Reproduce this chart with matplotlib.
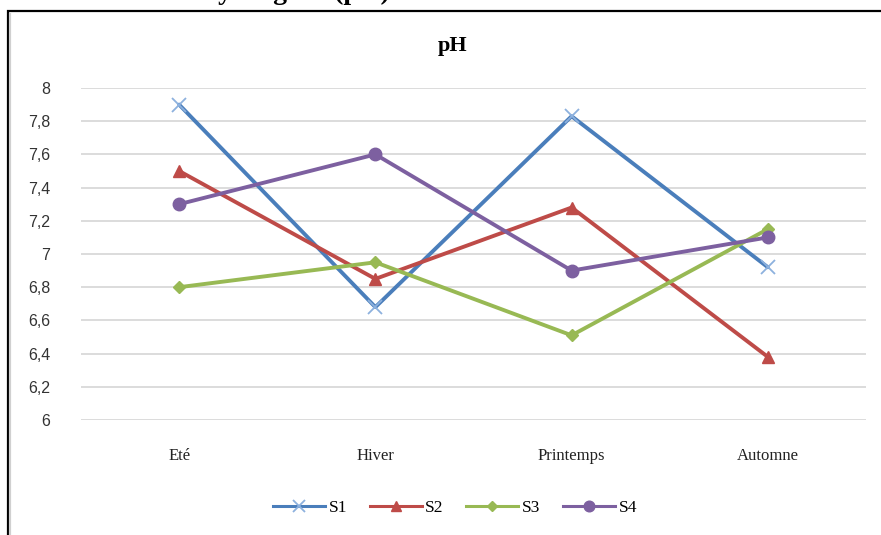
import matplotlib
matplotlib.use("Agg")
import matplotlib.pyplot as plt
from matplotlib.patches import Rectangle
from matplotlib.lines import Line2D

categories = ["Eté", "Hiver", "Printemps", "Automne"]
s1 = [7.90, 6.68, 7.83, 6.92]
s2 = [7.50, 6.85, 7.28, 6.38]
s3 = [6.80, 6.95, 6.51, 7.15]
s4 = [7.30, 7.60, 6.90, 7.10]
series_names = ["S1", "S2", "S3", "S4"]
yticks = [6.0, 6.2, 6.4, 6.6, 6.8, 7.0, 7.2, 7.4, 7.6, 7.8, 8.0]
ytick_labels = ["6", "6,2", "6,4", "6,6", "6,8", "7", "7,2", "7,4", "7,6", "7,8", "8"]

W, H = 881, 535
fig = plt.figure(figsize=(W/100, H/100), dpi=100)
fig.patch.set_facecolor("white")

# frame of the chart (cropped screenshot)
fig.patches.append(Rectangle((8/W, -0.1), 1.2, 1 - 11/H + 0.1, transform=fig.transFigure,
                             fill=False, edgecolor="black", linewidth=1.6, zorder=0))
fig.patches.append(Rectangle((10/W, -0.1), 0.0001, 1 - 13/H + 0.1, transform=fig.transFigure,
                             fill=False, edgecolor="#d0d0d0", linewidth=1.5, zorder=0))

# cropped heading above chart (only its lower part is visible in the reference)
fig.text(390/W, 1 + 1/H, "Potentiel hydrogène (pH)", ha="right", va="baseline",
         fontsize=20, fontweight="bold", family="Liberation Serif", color="black")

ax = fig.add_axes([81/W, 1 - 420/H, (866 - 81)/W, (420 - 88)/H])
x = list(range(len(categories)))

styles = [
    dict(color="#4A7EBB", marker="x", ms=10, mec="#8DB1DE", mew=1.3),
    dict(color="#BE4B48", marker="^", ms=9, mec="#BE4B48", mfc="#BE4B48"),
    dict(color="#98B954", marker="D", ms=6, mec="#98B954", mfc="#98B954"),
    dict(color="#7D60A0", marker="o", ms=9, mec="#7D60A0", mfc="#7D60A0"),
]
for vals, name, st in zip([s1, s2, s3, s4], series_names, styles):
    ax.plot(x, vals, lw=2.8, label=name, solid_capstyle="round", solid_joinstyle="round", **st)

ax.set_xlim(-0.5, len(categories) - 0.5)
ax.set_ylim(6.0, 8.0)
ax.set_yticks(yticks)
ax.set_yticklabels(ytick_labels, family="Liberation Sans", fontsize=11.5, color="#333333")
ax.set_xticks(x)
ax.set_xticklabels(categories, family="Liberation Serif", fontsize=12, color="#222222")
ax.tick_params(axis="both", length=0)
ax.tick_params(axis="x", pad=20)
ax.tick_params(axis="y", pad=22)
ax.yaxis.grid(True, color="#D9D9D9", lw=1.3)
ax.set_axisbelow(True)
for sp in ax.spines.values():
    sp.set_visible(False)
for lab in ax.get_yticklabels():
    lab.set_horizontalalignment("right")

fig.text(453/W, 1 - 46/H, "pH", ha="center", va="center", fontsize=16,
         fontweight="bold", family="Liberation Serif")

handles = []
for name, st in zip(series_names, styles):
    handles.append(Line2D([0], [0], lw=2.2, label=name, **{k: v for k, v in st.items() if k != "ms"},
                          ms=st["ms"] * 0.85))
fig.legend(handles=handles, loc="center", bbox_to_anchor=(455/W, 1 - 508/H), ncol=4,
           frameon=False, prop={"family": "Liberation Serif", "size": 12.5},
           handlelength=3.0, handletextpad=0.2, columnspacing=1.3)

fig.savefig("out.png", dpi=100, facecolor="white")
